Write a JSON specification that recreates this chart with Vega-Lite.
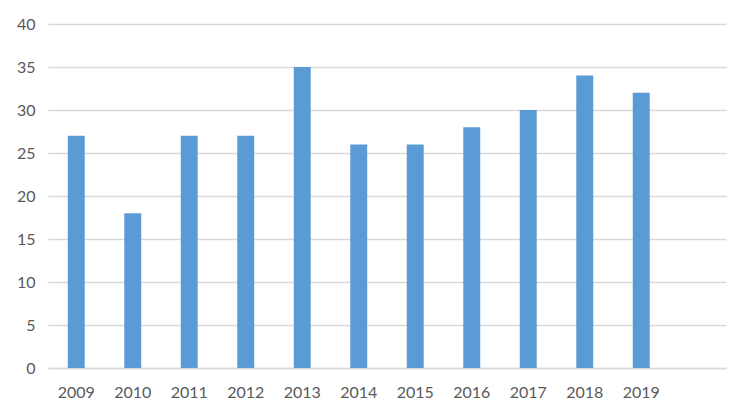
{
  "$schema": "https://vega.github.io/schema/vega-lite/v6.json",
  "width": 678,
  "height": 344,
  "autosize": "none",
  "padding": {"left": 48, "top": 24, "right": 24, "bottom": 52},
  "background": "white",
  "config": {"view": {"stroke": null}, "font": "Lato"},
  "data": {"values": [
    {"year": "2009", "value": 27},
    {"year": "2010", "value": 18},
    {"year": "2011", "value": 27},
    {"year": "2012", "value": 27},
    {"year": "2013", "value": 35},
    {"year": "2014", "value": 26},
    {"year": "2015", "value": 26},
    {"year": "2016", "value": 28},
    {"year": "2017", "value": 30},
    {"year": "2018", "value": 34},
    {"year": "2019", "value": 32}
  ]},
  "mark": {"type": "bar", "color": "#5B9BD5"},
  "encoding": {
    "x": {
      "field": "year", "type": "nominal",
      "scale": {"domain": ["2009","2010","2011","2012","2013","2014","2015","2016","2017","2018","2019","2020"], "paddingInner": 0.7, "paddingOuter": 0.35},
      "axis": {"title": null, "labelAngle": 0, "ticks": false, "domain": true, "domainColor": "#d9d9d9", "domainWidth": 1.5, "labelPadding": 16, "labelFontSize": 16, "labelColor": "#595959", "labelExpr": "datum.value == '2020' ? '' : datum.value"}
    },
    "y": {
      "field": "value", "type": "quantitative",
      "scale": {"domain": [0, 40]},
      "axis": {"title": null, "values": [0,5,10,15,20,25,30,35,40], "ticks": false, "domain": false, "gridColor": "#d9d9d9", "gridWidth": 1.5, "labelPadding": 13, "labelFontSize": 16, "labelColor": "#595959"}
    }
  }
}
